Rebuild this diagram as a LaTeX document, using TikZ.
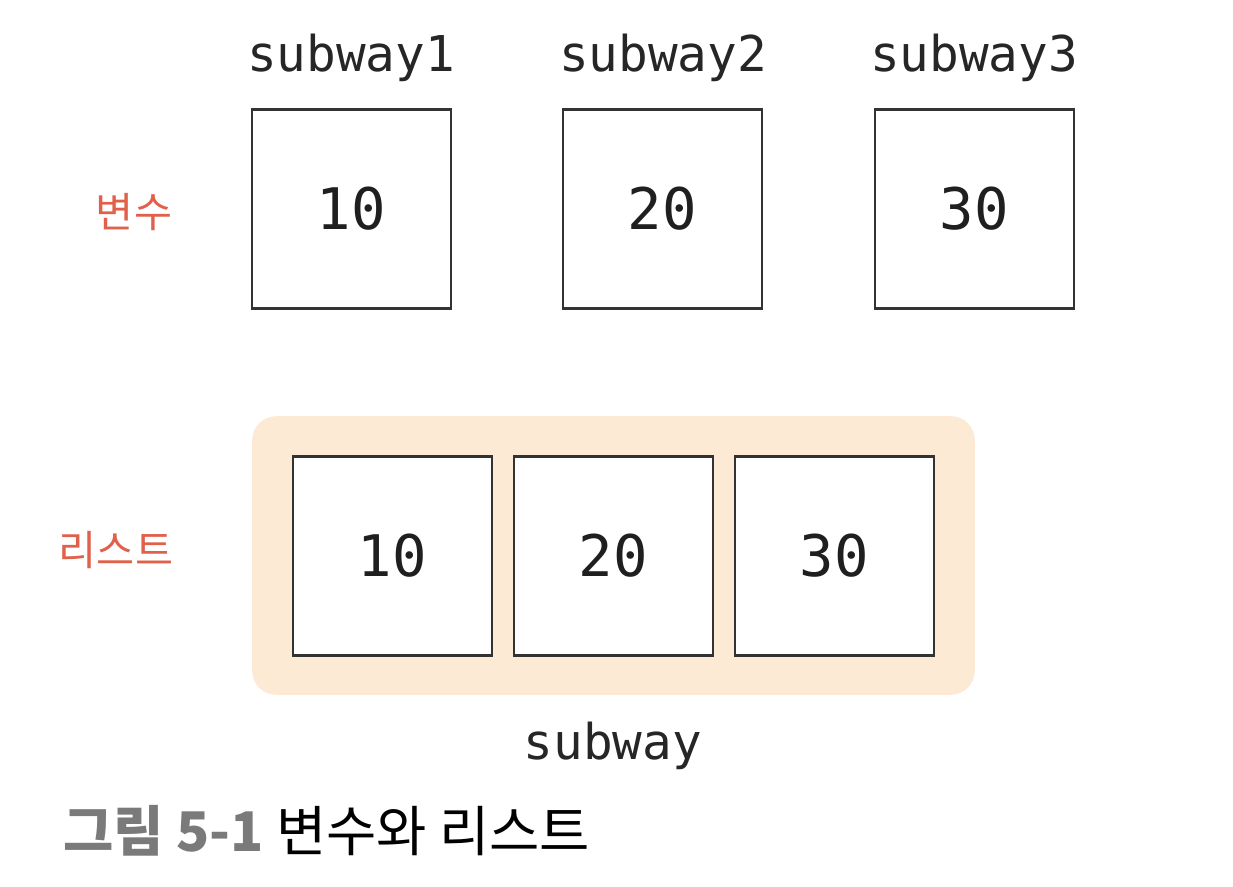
\documentclass[tikz,border=0pt]{standalone}
\usepackage{fontspec}
\setmonofont{DejaVu Sans Mono}
\newfontfamily\kr{Noto Sans CJK KR}
\newfontfamily\krl{Noto Sans CJK KR Light}
\definecolor{labred}{HTML}{E0604A}
\definecolor{bgorange}{HTML}{FDEAD5}
\definecolor{capgray}{HTML}{7A7A7A}
\definecolor{boxline}{HTML}{333333}
\begin{document}
\begin{tikzpicture}[x=0.75pt,y=-0.75pt,
  cell/.style={draw=boxline,line width=1.8pt,fill=white,minimum width=149pt,minimum height=149pt,inner sep=0pt,font=\ttfamily\fontsize{43}{46}\selectfont,text=black!88},
  varname/.style={font=\ttfamily\fontsize{37}{40}\selectfont,text=black!85,inner sep=0pt},
  klabel/.style={font=\kr\fontsize{31}{34}\selectfont,text=labred,inner sep=0pt}]
\useasboundingbox (0,0) rectangle (1233,887);
% top row
\node[cell] (v1) at (351.5,209) {10};
\node[cell] (v2) at (662.5,209) {20};
\node[cell] (v3) at (974.5,209) {30};
\node[varname] (n1) at (351,58) {subway1};
\node[varname] (n2) at (663,58) {subway2};
\node[varname] (n3) at (974,58) {subway3};
\node[klabel] (k1) at (134,212) {변수};
% list
\node[fill=bgorange,rounded corners=18pt,minimum width=542pt,minimum height=209pt,inner sep=0pt] (bg) at (613.5,555.5) {};
\node[cell] (l1) at (392.5,556) {10};
\node[cell] (l2) at (613.5,556) {20};
\node[cell] (l3) at (834.5,556) {30};
\node[varname] (ln) at (613,746) {subway};
\node[klabel] (k2) at (116,550) {리스트};
% caption
\node[anchor=west,inner sep=0pt,font=\kr\fontsize{41}{44}\selectfont] (cap) at (63,831) {{\bfseries\color{capgray}그림 5-1} 변수와 리스트};
\end{tikzpicture}
\end{document}
